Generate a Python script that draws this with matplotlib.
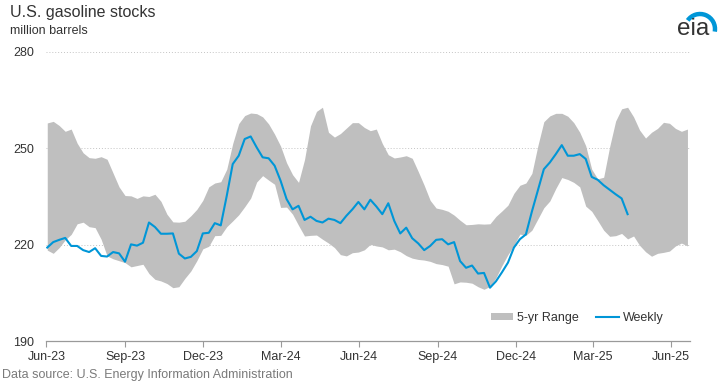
import matplotlib
matplotlib.use("Agg")
import matplotlib.pyplot as plt
from matplotlib.patches import Patch, Arc
from matplotlib.lines import Line2D
import pandas as pd

plt.rcParams['font.family'] = ['Liberation Sans', 'DejaVu Sans']

# weekly stocks, million barrels, first week 2023-06-02
weekly = [219.1, 220.8, 221.5, 222.1, 219.6, 219.6, 218.3, 217.7, 218.9, 216.5,
          216.3, 217.7, 217.3, 214.7, 220.1, 219.7, 220.6, 226.9, 225.5, 223.4,
          223.4, 223.5, 217.2, 215.7, 216.2, 218.0, 223.5, 223.7, 226.7, 226.0,
          235.2, 245.1, 247.7, 252.9, 253.7, 250.3, 247.2, 246.9, 244.6, 239.9,
          234.2, 231.0, 232.1, 227.7, 228.7, 227.4, 226.9, 228.1, 227.7, 226.7,
          229.0, 231.0, 233.3, 231.0, 234.0, 231.9, 229.5, 232.9, 227.4, 223.5,
          225.3, 222.0, 220.4, 218.3, 219.6, 221.5, 221.7, 220.1, 220.8, 214.9,
          212.8, 213.5, 211.0, 211.2, 206.6, 208.6, 211.4, 214.4, 219.1, 221.7,
          223.2, 230.3, 236.9, 243.5, 245.6, 248.2, 251.0, 247.7, 247.7, 248.2,
          246.7, 241.1, 240.2, 238.5, 237.1, 235.7, 234.4, 229.5]

# 5-year range, same start week
range_high = [257.9, 258.4, 257.1, 255.3, 256.0, 251.6, 248.6, 247.1, 246.9, 247.4,
              246.6, 242.3, 238.0, 235.3, 235.2, 234.4, 235.2, 235.0, 235.7, 233.5,
              229.5, 227.1, 227.0, 227.3, 229.0, 231.0, 233.8, 238.0, 239.2, 239.6,
              243.5, 251.5, 257.7, 260.2, 261.0, 260.8, 259.8, 257.6, 254.4, 250.7,
              245.5, 241.8, 239.4, 246.5, 257.0, 261.5, 262.8, 255.0, 253.5, 254.6,
              256.3, 258.0, 258.0, 256.5, 255.5, 256.0, 251.5, 248.0, 247.0, 247.3,
              247.7, 246.9, 242.8, 238.5, 233.8, 231.4, 231.0, 230.4, 229.2, 227.6,
              226.2, 226.3, 226.5, 226.4, 226.5, 228.8, 230.5, 232.3, 236.0, 238.5,
              239.2, 242.2, 250.8, 258.3, 260.1, 260.9, 260.9, 260.0, 258.0, 255.0,
              250.8, 243.5, 240.5, 241.0, 250.5, 258.5, 262.3, 262.8, 259.8, 255.7,
              253.2, 255.0, 256.2, 258.1, 257.8, 256.2, 255.3, 256.0]
range_low = [218.3, 217.3, 219.1, 221.5, 223.2, 226.5, 227.0, 225.6, 225.3, 221.7,
             216.5, 215.6, 215.0, 214.4, 213.1, 213.5, 213.9, 211.0, 209.2, 208.7,
             207.9, 206.6, 206.9, 209.5, 211.8, 215.0, 218.7, 219.5, 222.8, 222.9,
             225.6, 227.4, 229.3, 231.8, 234.5, 239.5, 241.5, 240.1, 238.8, 231.6,
             231.7, 229.5, 226.0, 222.7, 222.9, 223.0, 221.7, 220.5, 219.1, 216.9,
             216.5, 217.5, 217.7, 218.4, 220.1, 219.6, 219.3, 218.4, 218.6, 217.8,
             216.6, 215.8, 215.4, 215.2, 214.8, 214.1, 213.8, 213.3, 207.8, 208.4,
             208.3, 208.0, 206.9, 206.1, 207.0, 209.7, 213.5, 216.9, 219.8, 223.3,
             222.9, 224.5, 228.0, 231.5, 233.6, 237.5, 240.9, 240.3, 239.4, 238.0,
             232.0, 230.4, 227.5, 224.5, 222.6, 222.8, 223.5, 221.8, 222.7, 219.8,
             217.8, 216.4, 217.3, 217.6, 218.0, 219.6, 220.5, 219.6]

tick_dates = ['2023-06-01', '2023-09-01', '2023-12-01', '2024-03-01', '2024-06-01',
              '2024-09-01', '2024-12-01', '2025-03-01', '2025-06-01']
tick_labels = ['Jun-23', 'Sep-23', 'Dec-23', 'Mar-24', 'Jun-24',
               'Sep-24', 'Dec-24', 'Mar-25', 'Jun-25']
y_ticks = [190, 220, 250, 280]

weekly_dates = pd.date_range('2023-06-02', periods=len(weekly), freq='7D')
range_dates = pd.date_range('2023-06-02', periods=len(range_high), freq='7D')

W, H = 719, 384
fig = plt.figure(figsize=(W / 100, H / 100), dpi=100)
ax = fig.add_axes([46.4 / W, 1 - 341 / H, (690 - 46.4) / W, (341 - 52) / H])

ax.fill_between(range_dates, range_low, range_high, color='#bfbfbf', linewidth=0)
ax.plot(weekly_dates, weekly, color='#0096d7', linewidth=1.5)

ax.set_xlim(pd.Timestamp('2023-06-01'), pd.Timestamp('2025-06-23'))
ax.set_ylim(190, 280)
ax.set_yticks(y_ticks)
ax.set_xticks(pd.to_datetime(tick_dates))
ax.set_xticklabels(tick_labels)

ax.grid(axis='y', color='#c4c4c4', linestyle=(0, (1, 2)), linewidth=0.7)
ax.set_axisbelow(True)
for s in ['top', 'right', 'left']:
    ax.spines[s].set_visible(False)
ax.spines['bottom'].set_color('#9a9a9a')
ax.spines['bottom'].set_linewidth(0.9)
ax.tick_params(axis='x', length=4, color='#9a9a9a', labelsize=9, labelcolor='#333333', pad=3)
ax.tick_params(axis='y', length=0, labelsize=9, labelcolor='#333333', pad=9)

handles = [Patch(facecolor='#bfbfbf', edgecolor='none', label='5-yr Range'),
           Line2D([0], [0], color='#0096d7', linewidth=1.5, label='Weekly')]
ax.legend(handles=handles, loc='center left', bbox_to_anchor=(0.673, 0.08), ncol=2,
          frameon=False, fontsize=9, handlelength=1.8, handleheight=0.6,
          handletextpad=0.3, columnspacing=1.4, labelcolor='#333333')

fig.text(10 / W, 1 - 5 / H, 'U.S. gasoline stocks', fontsize=11.5, color='#333333', va='top')
fig.text(10 / W, 1 - 25 / H, 'million barrels', fontsize=9, color='#333333', va='top')
fig.text(2 / W, 1 - 375 / H, 'Data source: U.S. Energy Information Administration',
         fontsize=9, color='#7a7a7a', va='center')

# eia logo
fig.text(677 / W, 1 - 35 / H, 'eia', fontsize=17.5, color='#333333', va='baseline')
fig.patches.append(Arc((7.00, (H - 29) / 100), 0.3, 0.3, theta1=-10, theta2=145,
                       color='#0096d7', linewidth=3.2, transform=fig.dpi_scale_trans))

fig.savefig('out.png', dpi=100)
